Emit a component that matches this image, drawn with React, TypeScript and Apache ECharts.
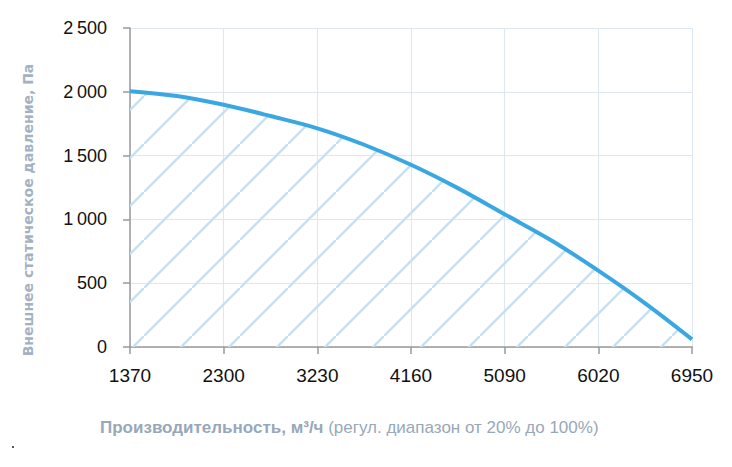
import React, { useEffect, useRef } from "react";
import * as echarts from "echarts";

const flowCategories = ["1370", "1835", "2300", "2765", "3230", "3695", "4160", "4625", "5090", "5555", "6020", "6485", "6950"];
const pressureValues = [2005, 1967, 1898, 1810, 1714, 1585, 1428, 1245, 1040, 835, 598, 342, 60];
const yAxisTitle = "Внешнее статическое давление, Па";
const xAxisTitleBold = "Производительность, м³/ч";
const xAxisTitleRest = " (регул. диапазон от 20% до 100%)";

function makeHatch(): string {
  const s = 48;
  const c = document.createElement("canvas");
  c.width = s;
  c.height = s;
  const ctx = c.getContext("2d")!;
  ctx.strokeStyle = "#c8e1ee";
  ctx.lineWidth = 2.4;
  ctx.beginPath();
  ctx.moveTo(-4, s + 4);
  ctx.lineTo(s + 4, -4);
  ctx.stroke();
  return c.toDataURL();
}

export default function App() {
  const ref = useRef<HTMLDivElement>(null);
  useEffect(() => {
    document.body.style.margin = "0";
    const chart = echarts.init(ref.current!, undefined, { renderer: "svg" });
    const hatch = makeHatch();
    chart.setOption({
      animation: false,
      backgroundColor: "#ffffff",
      grid: { left: 130, right: 40, top: 28, bottom: 120 },
      xAxis: {
        type: "category",
        data: flowCategories,
        boundaryGap: false,
        axisLine: { show: true, lineStyle: { color: "#9a9a9a", width: 1.5 } },
        axisTick: { show: true, length: 7, alignWithLabel: true, lineStyle: { color: "#9a9a9a", width: 1.5 } },
        axisLabel: {
          interval: 1,
          margin: 19,
          color: "#111",
          fontSize: 19,
          fontFamily: "Liberation Sans, Arial, sans-serif",
        },
        splitLine: { show: true, lineStyle: { color: "#dde7f2", width: 1 } },
      },
      yAxis: {
        type: "value",
        min: 0,
        max: 2500,
        interval: 500,
        axisLine: { show: true, lineStyle: { color: "#9a9a9a", width: 1.5 } },
        axisTick: { show: true, length: 7, lineStyle: { color: "#9a9a9a", width: 1.5 } },
        axisLabel: {
          margin: 23,
          color: "#111",
          fontSize: 18,
          fontFamily: "Liberation Sans, Arial, sans-serif",
          formatter: (v: number) => (v >= 1000 ? `${Math.floor(v / 1000)}\u2009${String(v % 1000).padStart(3, "0")}` : String(v)),
        },
        splitLine: { show: true, lineStyle: { color: "#dde7f2", width: 1 } },
      },
      series: [
        {
          type: "line",
          data: pressureValues,
          smooth: 0.35,
          showSymbol: false,
          lineStyle: { color: "#3aa7e2", width: 4 },
          areaStyle: {
            color: { image: hatch, repeat: "repeat", x: 7, y: 0 } as any,
            opacity: 1,
          },
        },
      ],
      graphic: [
        {
          type: "text",
          x: 28,
          y: 210,
          rotation: Math.PI / 2,
          style: {
            text: yAxisTitle,
            fill: "#a3b2c3",
            fontWeight: "bold",
            fontSize: 14,
            fontFamily: "'DejaVu Sans', sans-serif",
            align: "center",
            verticalAlign: "middle",
          },
        },
        {
          type: "text",
          x: 100,
          y: 427,
          style: {
            x: 0,
            y: 0,
            text: `{b|${xAxisTitleBold}}{r|${xAxisTitleRest}}`,
            verticalAlign: "middle",
            align: "left",
            rich: {
              b: {
                fill: "#98a8b9",
                fontWeight: "bold",
                fontSize: 17,
                fontFamily: "'Liberation Sans', Arial, sans-serif",
              },
              r: {
                fill: "#98a8b9",
                fontSize: 17,
                fontFamily: "'Liberation Sans', Arial, sans-serif",
              },
            },
          },
        },
        {
          type: "rect",
          shape: { x: 12, y: 446, width: 2, height: 2 },
          style: { fill: "#555" },
        },
      ],
    });
    return () => chart.dispose();
  }, []);
  return <div ref={ref} style={{ width: 732, height: 467 }} />;
}
